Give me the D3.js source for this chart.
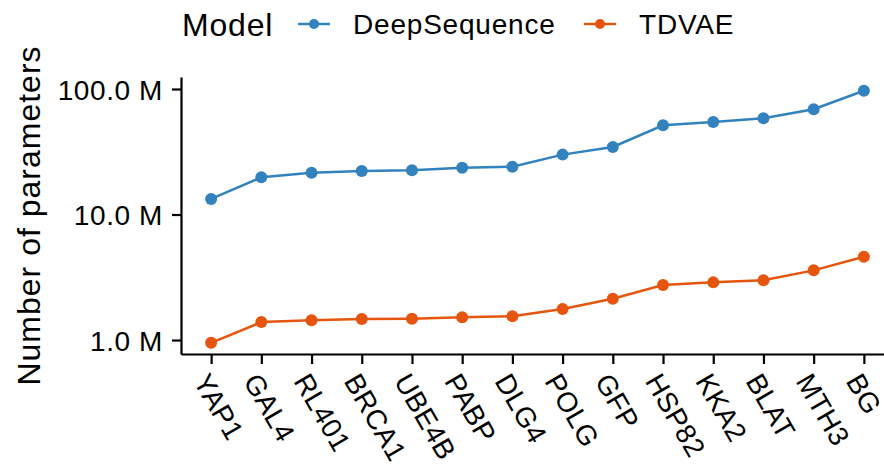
<!DOCTYPE html>
<html>
<head>
<meta charset="utf-8">
<script src="https://cdn.jsdelivr.net/npm/d3@7"></script>
<style>
body{margin:0;background:#fff;}
svg{display:block;font-family:"Liberation Sans",Arial,sans-serif;}
</style>
</head>
<body>
<svg></svg>
<script>
//data
var proteins = ['YAP1','GAL4','RL401','BRCA1','UBE4B','PABP','DLG4','POLG','GFP','HSP82','KKA2','BLAT','MTH3','BG'];
var deepSeq = [13.3e6,19.8e6,21.5e6,22.2e6,22.5e6,23.6e6,24.0e6,30.0e6,34.5e6,51.4e6,54.6e6,58.4e6,68.9e6,96.9e6];
var tdvae = [0.95e6,1.39e6,1.44e6,1.47e6,1.48e6,1.52e6,1.55e6,1.77e6,2.13e6,2.74e6,2.88e6,3.0e6,3.59e6,4.61e6];
var modelNames = ['DeepSequence','TDVAE'];
var modelColors = ['#3182bd','#e6550d'];
var yTicks = [1e6,1e7,1e8];
var yTickLabels = ['1.0 M','10.0 M','100.0 M'];

/*********page params************/
var width = 884;
var height = 468;
var plot = {left:181,right:894,top:77,bottom:354};
var svg = d3.select('svg')
	.attr('width',width)
	.attr('height',height);

var xScale = d3.scalePoint()
	.domain(proteins)
	.range([plot.left,plot.right])
	.padding(0.6);
var yScale = d3.scaleLog()
	.domain([0.774e6,124.6e6])
	.range([plot.bottom,plot.top]);

/*********axes************/
var axisX = d3.axisBottom(xScale).tickSize(10).tickSizeOuter(0);
var axisY = d3.axisLeft(yScale).tickValues(yTicks)
	.tickFormat(function(d,i){return yTickLabels[i];})
	.tickSize(9).tickSizeOuter(0);

var axisXG = svg.append('g')
	.attr('transform','translate(0,'+plot.bottom+')')
	.call(axisX);
var axisYG = svg.append('g')
	.attr('transform','translate('+plot.left+',0)')
	.call(axisY);
axisXG.select('.domain').attr('stroke','#000').attr('stroke-width',2.2);
axisYG.select('.domain').attr('stroke','#000').attr('stroke-width',2.2);
svg.selectAll('.tick line').attr('stroke','#000').attr('stroke-width',2.2);

axisYG.selectAll('.tick text')
	.attr('x',-18)
	.attr('dy','0.36em')
	.style('font-size','28px')
	.style('letter-spacing','0.6px')
	.attr('fill','#000');
//x labels turned 60 degrees, starting at the tick
axisXG.selectAll('.tick text')
	.attr('y',0).attr('dy',0)
	.attr('text-anchor','start')
	.attr('transform','translate(-19,27) rotate(60)')
	.style('font-size','28px')
	.style('letter-spacing','0.3px')
	.attr('fill','#000');

//y axis title
svg.append('text')
	.attr('transform','translate(40,'+((plot.top+plot.bottom)/2)+') rotate(-90)')
	.attr('text-anchor','middle')
	.style('font-size','32px')
	.style('letter-spacing','1px')
	.text('Number of parameters');

/*********lines+points************/
var series = [deepSeq,tdvae];
var line = d3.line()
	.x(function(d,i){return xScale(proteins[i]);})
	.y(function(d){return yScale(d);});
series.forEach(function(vals,k){
	var g = svg.append('g');
	g.append('path')
		.attr('d',line(vals))
		.attr('fill','none')
		.attr('stroke',modelColors[k])
		.attr('stroke-width',2.5);
	g.selectAll('circle').data(vals).enter().append('circle')
		.attr('cx',function(d,i){return xScale(proteins[i]);})
		.attr('cy',function(d){return yScale(d);})
		.attr('r',6)
		.attr('fill',modelColors[k]);
});

/*********legend************/
var legendY = 24;
var legend = svg.append('g');
legend.append('text')
	.attr('x',182).attr('y',legendY).attr('dy','0.36em')
	.style('font-size','32px')
	.style('letter-spacing','0.8px')
	.text('Model');
var keyX = [298,584];
modelNames.forEach(function(name,k){
	legend.append('line')
		.attr('x1',keyX[k]).attr('x2',keyX[k]+32)
		.attr('y1',legendY).attr('y2',legendY)
		.attr('stroke',modelColors[k]).attr('stroke-width',2.5);
	legend.append('circle')
		.attr('cx',keyX[k]+16).attr('cy',legendY).attr('r',5)
		.attr('fill',modelColors[k]);
	legend.append('text')
		.attr('x',keyX[k]+55).attr('y',legendY).attr('dy','0.36em')
		.style('font-size','28px')
		.style('letter-spacing','0.8px')
		.text(name);
});
</script>
</body>
</html>
